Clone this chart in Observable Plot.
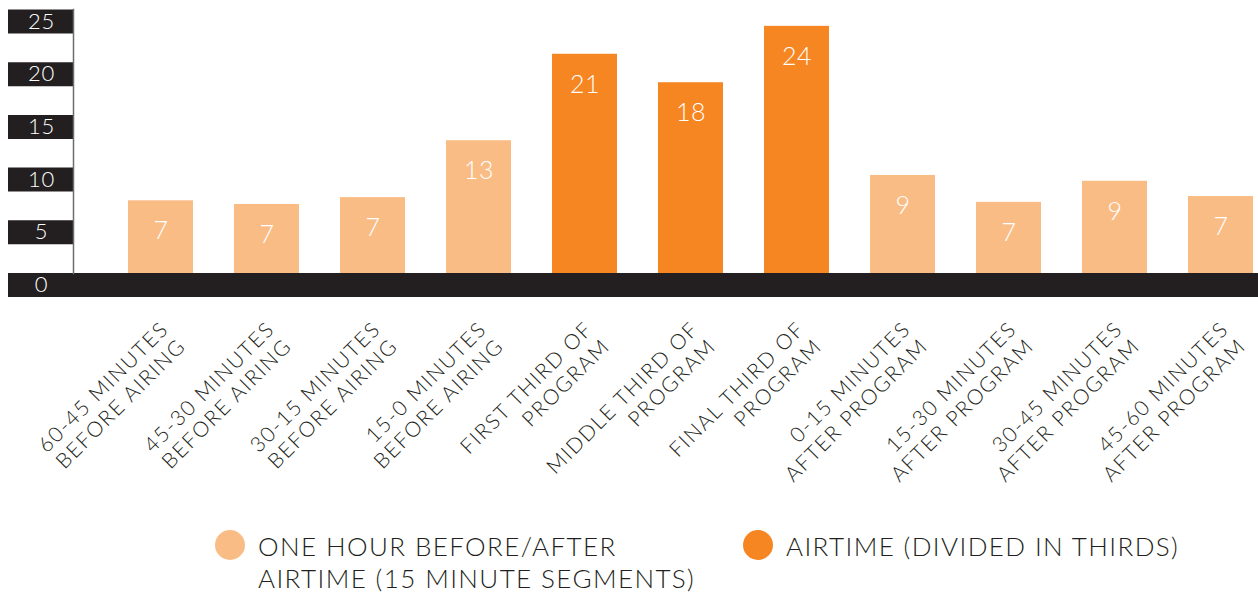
<!DOCTYPE html>
<html>
<head>
<meta charset="utf-8">
<script src="https://cdn.jsdelivr.net/npm/d3@7"></script>
<script src="https://cdn.jsdelivr.net/npm/@observablehq/plot@0.6"></script>
<style>
  html, body { margin: 0; padding: 0; background: #ffffff; }
  body { width: 1258px; height: 601px; overflow: hidden; font-family: Lato, "Open Sans", sans-serif; font-weight: 300; }
  #chart svg { display: block; }
  .legend { display: flex; margin-left: 215px; margin-top: 25px; color: #231F20; font-size: 26px; line-height: 32px; letter-spacing: 1.4px; }
  .item { display: flex; align-items: flex-start; }
  .item1 { width: 528px; }
  .swatch { width: 30px; height: 30px; border-radius: 50%; flex: none; margin-top: 0px; margin-right: 13px; }
</style>
</head>
<body>
<div id="chart"></div>
<div class="legend">
  <div class="item item1"><span class="swatch" style="background:#F9BC85"></span><span>ONE HOUR BEFORE/AFTER<br>AIRTIME (15 MINUTE SEGMENTS)</span></div>
  <div class="item"><span class="swatch" style="background:#F58622"></span><span>AIRTIME (DIVIDED IN THIRDS)</span></div>
</div>
<script>
const categories = [
  "60-45 MINUTES\nBEFORE AIRING",
  "45-30 MINUTES\nBEFORE AIRING",
  "30-15 MINUTES\nBEFORE AIRING",
  "15-0 MINUTES\nBEFORE AIRING",
  "FIRST THIRD OF\nPROGRAM",
  "MIDDLE THIRD OF\nPROGRAM",
  "FINAL THIRD OF\nPROGRAM",
  "0-15 MINUTES\nAFTER PROGRAM",
  "15-30 MINUTES\nAFTER PROGRAM",
  "30-45 MINUTES\nAFTER PROGRAM",
  "45-60 MINUTES\nAFTER PROGRAM"
];
const values = [6.9, 6.55, 7.2, 12.6, 20.8, 18.1, 23.45, 9.3, 6.75, 8.75, 7.3];
const valueLabels = ["7", "7", "7", "13", "21", "18", "24", "9", "7", "9", "7"];
const groups = ["before/after", "before/after", "before/after", "before/after", "airtime", "airtime", "airtime", "before/after", "before/after", "before/after", "before/after"];
const groupNames = ["before/after", "airtime"];
const groupColors = ["#F9BC85", "#F58622"];
const yTicks = [5, 10, 15, 20, 25];
const yZero = [0];

const data = categories.map((c, i) => ({category: c, value: values[i], label: valueLabels[i], group: groups[i]}));

const W = 1258;
const H = 505;
const chart = Plot.plot({
  width: W,
  height: H,
  marginLeft: 73,
  marginRight: 0,
  marginTop: 9,
  marginBottom: H - 273,
  style: {fontFamily: "Lato, 'Open Sans', sans-serif", fontWeight: 300, background: "#ffffff", overflow: "visible"},
  x: {type: "band", domain: categories, range: [128, 1253], paddingInner: 0.387, paddingOuter: 0, axis: null},
  y: {domain: [0, 25], range: [284.5, 21], axis: null},
  color: {domain: groupNames, range: groupColors},
  marks: [
    Plot.ruleY(yTicks, {stroke: "#231F20", strokeWidth: 24, insetLeft: -65, insetRight: W - 73}),
    Plot.barY(data, {x: "category", y: "value", fill: "group", dy: -11.5}),
    Plot.ruleY(yZero, {stroke: "#231F20", strokeWidth: 24, insetLeft: -65}),
    Plot.frame({anchor: "left", stroke: "#6d6e71", strokeWidth: 1.5}),
    Plot.text(yTicks.concat(yZero), {y: d => d, text: d => String(d), frameAnchor: "left", dx: -32, textAnchor: "middle", fill: "#ffffff", fontSize: 22}),
    Plot.text(data, {x: "category", y: "value", text: "label", dy: 19, fill: "#ffffff", fontSize: 25}),
    Plot.text(data, {x: "category", y: () => 0, text: "category", rotate: -45, textAnchor: "end", lineAnchor: "middle", lineHeight: 1.15, dx: 12, dy: 48.5, fill: "#231F20", fontSize: 21})
  ]
});
document.getElementById("chart").appendChild(chart);
const textGroups = d3.select(chart).selectAll('g[aria-label="text"]').nodes();
const spacings = ["0.8px", "0.5px", "1.6px"];
textGroups.forEach((g, i) => { g.style.letterSpacing = spacings[i] || "0px"; });
</script>
</body>
</html>
